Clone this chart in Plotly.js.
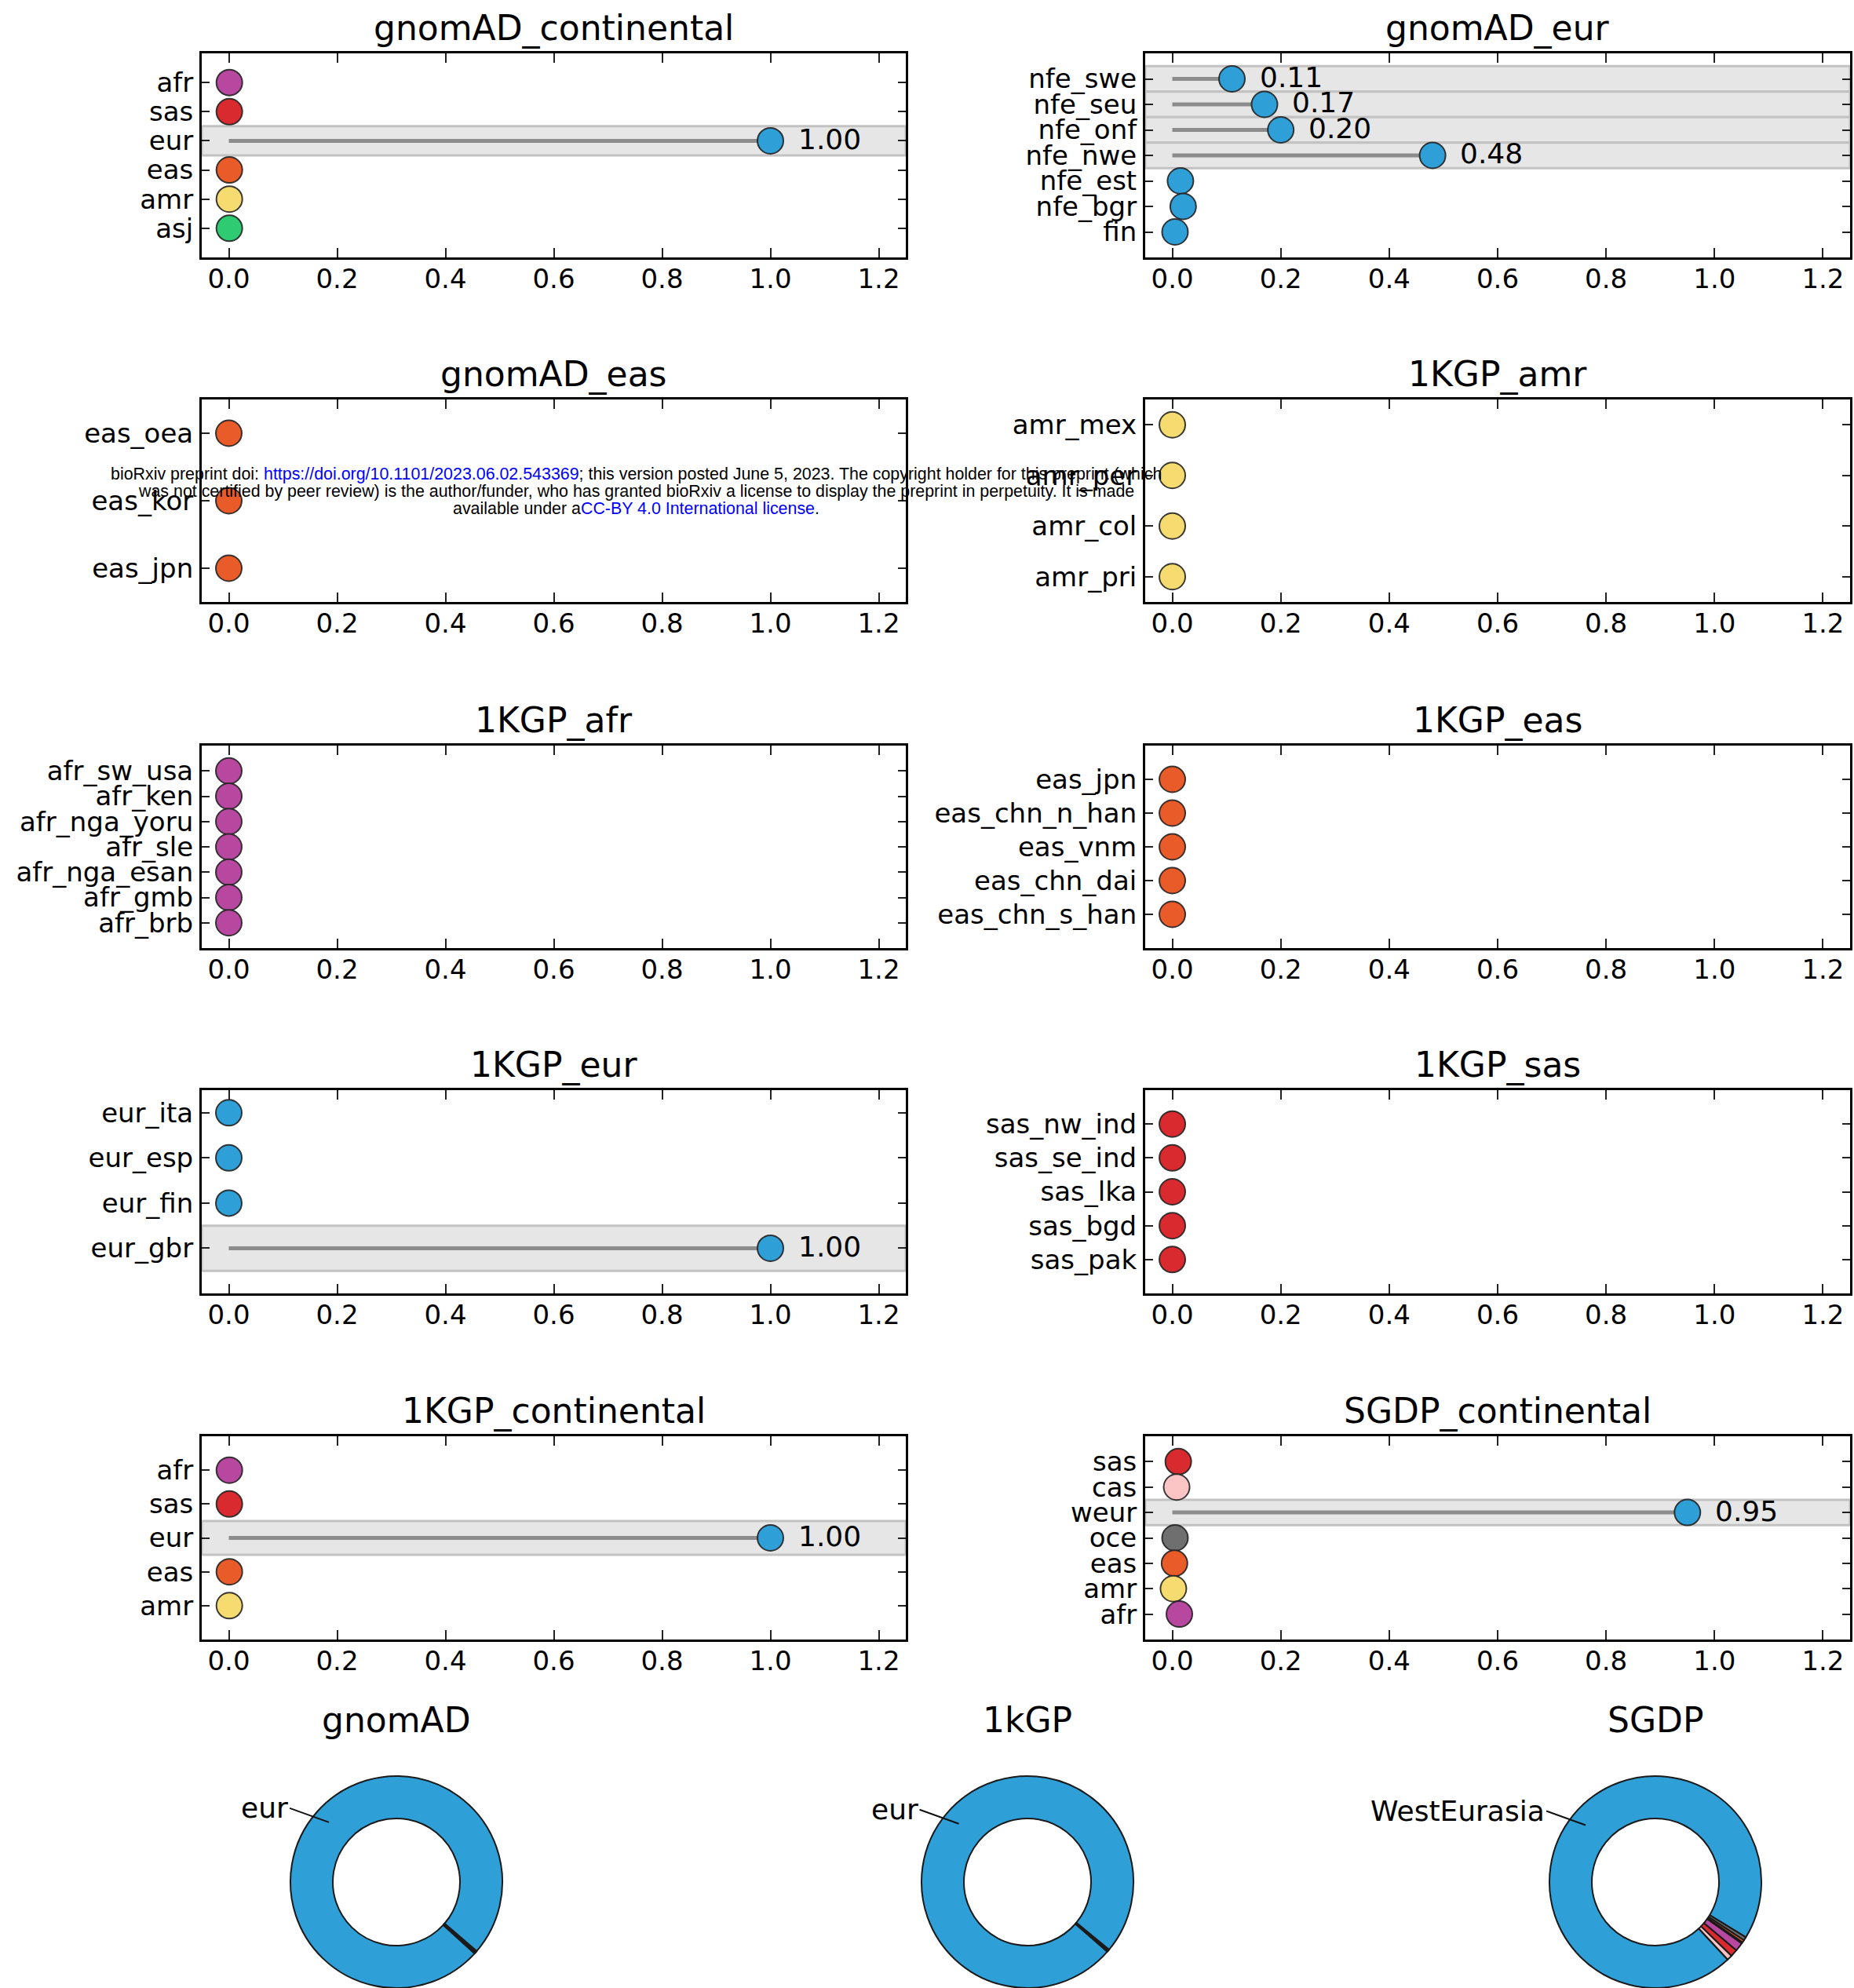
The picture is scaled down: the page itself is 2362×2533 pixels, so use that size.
<!DOCTYPE html>
<html><head><meta charset="utf-8">
<script src="https://cdn.plot.ly/plotly-3.0.1.min.js"></script>
<style>html,body{margin:0;padding:0;background:#fff}#chart{width:2362px;height:2533px}</style>
</head><body><div id="chart"></div>
<script>
// ---------------- DATA ----------------
const gnomadContinentalCats = ['afr','sas','eur','eas','amr','asj'];
const gnomadContinentalVals = [0.001, 0.001, 1.00, 0.001, 0.001, 0.001];

const gnomadEurCats = ['nfe_swe','nfe_seu','nfe_onf','nfe_nwe','nfe_est','nfe_bgr','fin'];
const gnomadEurVals = [0.11, 0.17, 0.20, 0.48, 0.015, 0.02, 0.005];

const gnomadEasCats = ['eas_oea','eas_kor','eas_jpn'];
const gnomadEasVals = [0, 0, 0];

const kgpAmrCats = ['amr_mex','amr_per','amr_col','amr_pri'];
const kgpAmrVals = [0, 0, 0, 0];

const kgpAfrCats = ['afr_sw_usa','afr_ken','afr_nga_yoru','afr_sle','afr_nga_esan','afr_gmb','afr_brb'];
const kgpAfrVals = [0, 0, 0, 0, 0, 0, 0];

const kgpEasCats = ['eas_jpn','eas_chn_n_han','eas_vnm','eas_chn_dai','eas_chn_s_han'];
const kgpEasVals = [0, 0, 0, 0, 0];

const kgpEurCats = ['eur_ita','eur_esp','eur_fin','eur_gbr'];
const kgpEurVals = [0, 0, 0, 1.00];

const kgpSasCats = ['sas_nw_ind','sas_se_ind','sas_lka','sas_bgd','sas_pak'];
const kgpSasVals = [0, 0, 0, 0, 0];

const kgpContinentalCats = ['afr','sas','eur','eas','amr'];
const kgpContinentalVals = [0.001, 0.001, 1.00, 0.001, 0.001];

const sgdpContinentalCats = ['sas','cas','weur','oce','eas','amr','afr'];
const sgdpContinentalVals = [0.011, 0.008, 0.95, 0.005, 0.004, 0.002, 0.013];

const panelTitles = ['gnomAD_continental','gnomAD_eur','gnomAD_eas','1KGP_amr','1KGP_afr',
                     '1KGP_eas','1KGP_eur','1KGP_sas','1KGP_continental','SGDP_continental'];

const donutTitles = ['gnomAD','1kGP','SGDP'];
const sgdpPieOrder = ['weur','cas','sas','afr','amr','eas','oce'];
const sgdpPieNames = {weur:'WestEurasia', cas:'CentralAsiaSiberia', sas:'SouthAsia', afr:'Africa',
                      amr:'America', eas:'EastAsia', oce:'Oceania'};

const tickVals = [0, 0.2, 0.4, 0.6, 0.8, 1.0, 1.2];

// ---------------- STYLE / LAYOUT ----------------
const palette = {afr:'#b8479f', sas:'#d92b2f', eur:'#2f9fd8', weur:'#2f9fd8', nfe:'#2f9fd8', fin:'#2f9fd8',
                 eas:'#ea5b2a', amr:'#f6dc70', asj:'#2fcb72', cas:'#fcc5c5', oce:'#6f6f6f'};
const colorFor = lab => palette[lab.split('_')[0]] || '#888';

const W = 2362, H = 2533;
const fx = px => px / W;
const fy = py => 1 - py / H;
const colX = [[257,1154],[1459,2357]];
const rowY = [[68,328],[509,767],[950,1208],[1389,1648],[1830,2089]];

const panels = [
  {cats:gnomadContinentalCats, vals:gnomadContinentalVals, col:0, row:0, yr:[-1,6]},
  {cats:gnomadEurCats, vals:gnomadEurVals, col:1, row:0, yr:[-1,7]},
  {cats:gnomadEasCats, vals:gnomadEasVals, col:0, row:1, yr:[-0.5,2.5]},
  {cats:kgpAmrCats, vals:kgpAmrVals, col:1, row:1, yr:[-0.5,3.5]},
  {cats:kgpAfrCats, vals:kgpAfrVals, col:0, row:2, yr:[-1,7]},
  {cats:kgpEasCats, vals:kgpEasVals, col:1, row:2, yr:[-1,5]},
  {cats:kgpEurCats, vals:kgpEurVals, col:0, row:3, yr:[-0.5,4]},
  {cats:kgpSasCats, vals:kgpSasVals, col:1, row:3, yr:[-1,5]},
  {cats:kgpContinentalCats, vals:kgpContinentalVals, col:0, row:4, yr:[-1,5]},
  {cats:sgdpContinentalCats, vals:sgdpContinentalVals, col:1, row:4, yr:[-1,7]}
];

const traces = [], shapes = [], annotations = [];
const layout = {
  width: W, height: H, margin:{l:0,r:0,t:0,b:0}, showlegend:false,
  paper_bgcolor:'#fff', plot_bgcolor:'#fff',
  font:{family:'DejaVu Sans', color:'#000'}
};

panels.forEach((p, k) => {
  const n = k + 1, sfx = n === 1 ? '' : String(n);
  const xr = 'x' + sfx, yr = 'y' + sfx;
  const [x0, x1] = colX[p.col], [y0, y1] = rowY[p.row];
  const idx = p.cats.map((_, i) => i);
  layout['xaxis' + sfx] = {
    domain:[fx(x0), fx(x1)], anchor: yr, range:[-0.05, 1.25],
    tickvals: tickVals, ticktext: tickVals.map(v => v.toFixed(1)),
    ticks:'inside', ticklen:12, tickwidth:2, tickcolor:'#222',
    showline:true, linecolor:'#000', linewidth:3, mirror:'ticks',
    showgrid:false, zeroline:false, tickfont:{size:34, color:'#000'},
    ticklabelstandoff: -5
  };
  layout['yaxis' + sfx] = {
    domain:[fy(y1), fy(y0)], anchor: xr, range:[p.yr[1], p.yr[0]],
    tickvals: idx, ticktext: p.cats,
    ticks:'inside', ticklen:10, tickwidth:2, tickcolor:'#222',
    showline:true, linecolor:'#000', linewidth:3, mirror:'ticks',
    showgrid:false, zeroline:false, tickfont:{size:34, color:'#000'},
    ticklabelstandoff: 1
  };
  // title
  annotations.push({xref:'paper', yref:'paper', x:fx((x0+x1)/2), y:fy(y0-32), text:panelTitles[k],
    showarrow:false, xanchor:'center', yanchor:'middle', font:{size:44, color:'#000'}});
  // bands + labels
  p.vals.forEach((v, i) => {
    if (v >= 0.1) {
      shapes.push({type:'rect', xref: xr + ' domain', yref: yr, x0:0, x1:1, y0:i-0.5, y1:i+0.5,
        fillcolor:'#e6e6e6', line:{color:'#c2c2c2', width:3}, layer:'below'});
      annotations.push({xref:xr, yref:yr, x:v, y:i, text:v.toFixed(2), showarrow:false,
        xanchor:'left', yanchor:'middle', xshift:33, yshift:2, font:{size:36, color:'#000'}});
    }
  });
  // stems
  const sx = [], sy = [];
  p.vals.forEach((v, i) => { sx.push(0, v, null); sy.push(i, i, null); });
  traces.push({type:'scatter', mode:'lines', x:sx, y:sy, xaxis:xr, yaxis:yr,
    line:{color:'#8c8c8c', width:5}, hoverinfo:'skip', cliponaxis:false});
  // dots
  traces.push({type:'scatter', mode:'markers', x:p.vals, y:idx, xaxis:xr, yaxis:yr,
    marker:{size:33, color:p.cats.map(colorFor), line:{color:'rgba(35,35,35,0.9)', width:2}},
    cliponaxis:false});
});

// ---------------- DONUTS ----------------
const donutCenters = [[505,2398],[1309,2398],[2109,2398]];
const R = 135;
const pies = [
  {labels:gnomadContinentalCats, values:gnomadContinentalVals, colors:gnomadContinentalCats.map(colorFor), rot:131},
  {labels:kgpContinentalCats, values:kgpContinentalVals, colors:kgpContinentalCats.map(colorFor), rot:130},
  {labels:sgdpPieOrder.map(c => sgdpPieNames[c]),
   values:sgdpPieOrder.map(c => sgdpContinentalVals[sgdpContinentalCats.indexOf(c)]),
   colors:sgdpPieOrder.map(colorFor), rot:137}
];
function midAngles(values, rotation) {
  const tot = values.reduce((a, b) => a + b, 0), f = 360 / tot;
  let cur = rotation + values[0] * f;
  return values.map(v => { const m = cur - v * f / 2; cur -= v * f; return m; });
}
pies.forEach((p, k) => {
  const [cx, cy] = donutCenters[k];
  traces.push({type:'pie', labels:p.labels, values:p.values, sort:false, direction:'counterclockwise',
    rotation:p.rot, hole:0.6, textinfo:'none', textposition:'none', hoverinfo:'skip',
    marker:{colors:p.colors, line:{color:'#1a1a1a', width:2}},
    domain:{x:[fx(cx-R), fx(cx+R)], y:[Math.max(0, fy(cy+R)), fy(cy-R)]}, showlegend:false});
  annotations.push({xref:'paper', yref:'paper', x:fx(cx), y:fy(2191), text:donutTitles[k], showarrow:false,
    xanchor:'center', yanchor:'middle', font:{size:44, color:'#000'}});
  const tot = p.values.reduce((a, b) => a + b, 0);
  const mids = midAngles(p.values, p.rot);
  p.values.forEach((v, i) => {
    if (v / tot > 0.1) {
      const a = mids[i] * Math.PI / 180, r = 0.85 * R;
      const hx = cx + r * Math.sin(a), hy = cy - r * Math.cos(a);
      annotations.push({xref:'paper', yref:'paper', x:fx(hx), y:fy(hy), text:p.labels[i],
        showarrow:true, arrowhead:0, arrowwidth:2, arrowcolor:'#111', ax:-50, ay:-18,
        xanchor:'right', yanchor:'middle', font:{size:36, color:'#000'}});
    }
  });
});

// ---------------- WATERMARK ----------------
const wm = [
  "bioRxiv preprint doi: <span style='color:#0000ff'>https://doi.org/10.1101/2023.06.02.543369</span>; this version posted June 5, 2023. The copyright holder for this preprint (which",
  "was not certified by peer review) is the author/funder, who has granted bioRxiv a license to display the preprint in perpetuity. It is made",
  "available under a<span style='color:#0000ff'>CC-BY 4.0 International license</span>."
];
const wmY = [604, 626, 648];
wm.forEach((t, i) => annotations.push({xref:'paper', yref:'paper', x:fx(810), y:fy(wmY[i]), text:t,
  showarrow:false, xanchor:'center', yanchor:'middle', font:{family:'Liberation Sans, Arial', size:21.4, color:'#000'}}));

layout.shapes = shapes;
layout.annotations = annotations;
Plotly.newPlot('chart', traces, layout, {displayModeBar:false, staticPlot:true});
</script></body></html>
